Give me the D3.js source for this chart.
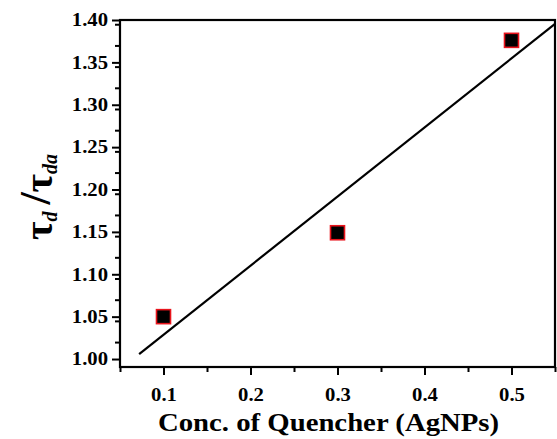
<!DOCTYPE html>
<html>
<head>
<meta charset="utf-8">
<script src="https://cdn.jsdelivr.net/npm/d3@7"></script>
<style>
  body { margin: 0; background: #fff; }
  text { font-family: "Liberation Serif", "Times New Roman", serif; font-weight: bold; }
</style>
</head>
<body>
<svg width="557" height="439"></svg>
<script>
// data
const conc = [0.1, 0.3, 0.5];
const ratio = [1.05, 1.149, 1.376];
const fitRange = [0.072, 0.55];
const xTicks = [0.1, 0.2, 0.3, 0.4, 0.5];
const yTicks = [1.0, 1.05, 1.1, 1.15, 1.2, 1.25, 1.3, 1.35, 1.4];

const svg = d3.select("svg"),
  margin = { top: 20, right: 2, bottom: 72, left: 120 },
  width = +svg.attr("width") - margin.left - margin.right,
  height = +svg.attr("height") - margin.top - margin.bottom,
  g = svg.append("g").attr("transform", `translate(${margin.left},${margin.top})`);

const x = d3.scaleLinear().domain([0.05, 0.55]).range([0, width]);
const y = d3.scaleLinear().domain([0.9906, 1.4]).range([height, 0]);

// least squares fit
const mx = d3.mean(conc), my = d3.mean(ratio);
const slope = d3.sum(conc, (c, i) => (c - mx) * (ratio[i] - my)) / d3.sum(conc, (c) => (c - mx) ** 2);
const icpt = my - slope * mx;

const stretch = (sel, dx) =>
  sel.attr("transform", `translate(${dx},0) scale(1.15,1) translate(${-dx},0)`);

// minor ticks
const xMinor = d3.range(0.05, 0.56, 0.05).filter((v) => !xTicks.some((t) => Math.abs(t - v) < 1e-6));
const yMinor = d3.range(0.995, 1.4, 0.025).filter((v) => v > 0.995 && !yTicks.some((t) => Math.abs(t - v) < 1e-6));

g.append("g")
  .attr("transform", `translate(0,${height})`)
  .call(d3.axisBottom(x).tickValues(xMinor).tickSize(5).tickFormat(""))
  .call((a) => a.select(".domain").remove())
  .selectAll("line").attr("stroke-width", 2);

g.append("g")
  .call(d3.axisLeft(y).tickValues(yMinor).tickSize(5).tickFormat(""))
  .call((a) => a.select(".domain").remove())
  .selectAll("line").attr("stroke-width", 2);

const xa = g.append("g")
  .attr("transform", `translate(0,${height})`)
  .call(d3.axisBottom(x).tickValues(xTicks).tickSize(8).tickPadding(13).tickFormat(d3.format(".1f")));
xa.select(".domain").remove();
xa.selectAll("line").attr("stroke-width", 2);
xa.selectAll("text").style("font-size", "18px").attr("fill", "#000").each(function () { stretch(d3.select(this), 0); });

const ya = g.append("g")
  .call(d3.axisLeft(y).tickValues(yTicks).tickSize(8).tickPadding(4).tickFormat(d3.format(".2f")));
ya.select(".domain").remove();
ya.selectAll("line").attr("stroke-width", 2);
ya.selectAll("text").style("font-size", "18px").attr("fill", "#000").each(function () { stretch(d3.select(this), -12); });

// frame
g.append("rect")
  .attr("width", width).attr("height", height)
  .attr("fill", "none").attr("stroke", "#000").attr("stroke-width", 2.2);

// fit line
g.append("line")
  .attr("x1", x(fitRange[0])).attr("y1", y(icpt + slope * fitRange[0]))
  .attr("x2", x(fitRange[1])).attr("y2", y(icpt + slope * fitRange[1]))
  .attr("stroke", "#000").attr("stroke-width", 2.2);

// points
g.selectAll(".pt")
  .data(conc)
  .enter()
  .append("rect")
  .attr("class", "pt")
  .attr("x", (d) => x(d) - 7)
  .attr("y", (d, i) => y(ratio[i]) - 7)
  .attr("width", 14).attr("height", 14)
  .attr("fill", "#000").attr("stroke", "#e8141c").attr("stroke-width", 1.6);

// axis titles
svg.append("text")
  .attr("x", margin.left + width / 2 - 9)
  .attr("y", 431)
  .attr("text-anchor", "middle")
  .style("font-size", "25px")
  .call((t) => stretch(t, margin.left + width / 2 - 9))
  .text("Conc. of Quencher (AgNPs)");

const yt = svg.append("text")
  .attr("transform", "translate(52,197) rotate(-90)")
  .attr("text-anchor", "middle");
yt.append("tspan").style("font-size", "40px").text("τ");
yt.append("tspan").style("font-size", "20px").style("font-style", "italic").attr("dy", 5).text("d");
yt.append("tspan").style("font-size", "44px").attr("dy", -7).attr("dx", 7).text("/");
yt.append("tspan").style("font-size", "40px").attr("dy", 2).text("τ");
yt.append("tspan").style("font-size", "20px").style("font-style", "italic").attr("dy", 5).text("da");
</script>
</body>
</html>
